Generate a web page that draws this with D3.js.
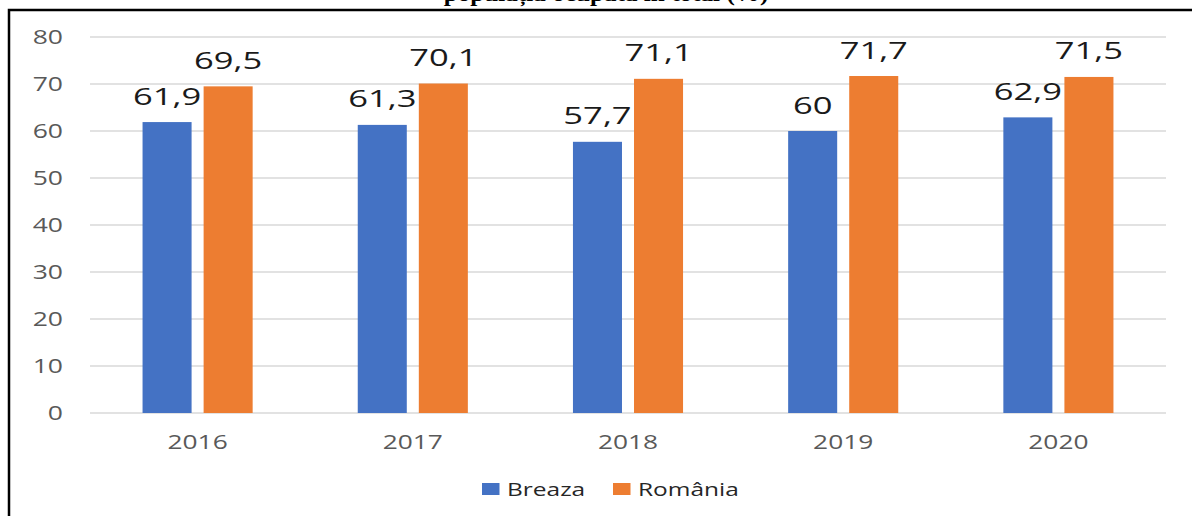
<!DOCTYPE html>
<html>
<head>
<meta charset="utf-8">
<script src="https://cdn.jsdelivr.net/npm/d3@7"></script>
<style>
  body { margin: 0; background: #fff; }
  svg { display: block; }
</style>
</head>
<body>
<div id="chart"></div>
<script>
// date din grafic
const years = ["2016", "2017", "2018", "2019", "2020"];
const seriesNames = ["Breaza", "România"];
const breaza = [61.9, 61.3, 57.7, 60, 62.9];
const romania = [69.5, 70.1, 71.1, 71.7, 71.5];
const yTicks = [0, 10, 20, 30, 40, 50, 60, 70, 80];
const titlu = "populația ocupată în total (%)";

const couleurs = ["#4472C4", "#ED7D31"];
const W = 1192, H = 516;

var svg = d3.select("#chart").append("svg")
    .attr("width", W)
    .attr("height", H);

// text intins pe orizontala, ca in imagine
function stretched(g, x, y, txt, sx){
    return g.append("text")
        .attr("transform", "translate(" + x + "," + y + ") scale(" + sx + ",1)")
        .text(txt);
}

// titlul taiat sus
stretched(svg, 606, 1, titlu, 1.2)
    .attr("text-anchor", "middle")
    .style("font-family", "'Liberation Serif', serif")
    .style("font-weight", "bold")
    .style("font-size", "21px")
    .attr("fill", "#000");

// chenar
svg.append("rect")
    .attr("x", 9).attr("y", 10)
    .attr("width", W + 20).attr("height", H + 20)
    .attr("fill", "none")
    .attr("stroke", "#000")
    .attr("stroke-width", 2.5);

var y = d3.scaleLinear().domain([0, 80]).range([413, 37]);

var x0 = d3.scaleBand().domain(years).range([90, 1166])
    .paddingInner(0.4884).paddingOuter(0.2442);
var x1 = d3.scaleBand().domain(seriesNames).range([0, x0.bandwidth()])
    .paddingInner(0.197);

// grila
svg.append("g").selectAll("line").data(yTicks)
    .enter().append("line")
    .attr("x1", 90).attr("x2", 1166)
    .attr("y1", function(d){ return y(d); })
    .attr("y2", function(d){ return y(d); })
    .attr("stroke", "#d9d9d9")
    .attr("stroke-width", 1.5);

// etichete axa y
var gy = svg.append("g")
    .style("font-family", "'Open Sans', sans-serif")
    .style("font-size", "19.5px")
    .attr("fill", "#595959")
    .attr("text-anchor", "end");
yTicks.forEach(function(t){
    stretched(gy, 63, y(t) + 7, t, 1.36);
});

// etichete axa x
var gx = svg.append("g")
    .style("font-family", "'Open Sans', sans-serif")
    .style("font-size", "19.5px")
    .attr("fill", "#595959")
    .attr("text-anchor", "middle");
years.forEach(function(an){
    stretched(gx, x0(an) + x0.bandwidth() / 2, 449, an, 1.35);
});

// bare
var valori = [breaza, romania];
var gBars = svg.append("g");
var gLab = svg.append("g")
    .style("font-family", "'Open Sans', sans-serif")
    .style("font-size", "24px")
    .attr("fill", "#1a1a1a")
    .attr("text-anchor", "middle");

seriesNames.forEach(function(s, i){
    gBars.selectAll("rect.s" + i).data(valori[i])
        .enter().append("rect")
        .attr("class", "s" + i)
        .attr("x", function(d, j){ return x0(years[j]) + x1(s); })
        .attr("y", function(d){ return y(d); })
        .attr("width", x1.bandwidth())
        .attr("height", function(d){ return y(0) - y(d); })
        .attr("fill", couleurs[i]);

    valori[i].forEach(function(v, j){
        stretched(gLab, x0(years[j]) + x1(s) + x1.bandwidth() / 2, y(v) - 17.5,
            String(v).replace(".", ","), 1.44);
    });
});

// legenda
var legX = [482, 613];
var gLeg = svg.append("g")
    .style("font-family", "'Open Sans', sans-serif")
    .style("font-size", "17.5px")
    .attr("fill", "#262626");
seriesNames.forEach(function(s, i){
    gLeg.append("rect")
        .attr("x", legX[i]).attr("y", 483)
        .attr("width", 17.5).attr("height", 12)
        .attr("fill", couleurs[i]);
    stretched(gLeg, legX[i] + 25, 495.5, s, 1.4);
});
</script>
</body>
</html>
